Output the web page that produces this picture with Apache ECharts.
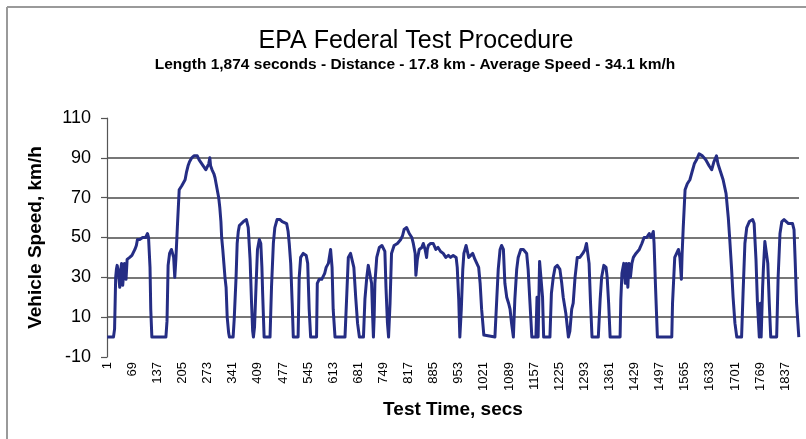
<!DOCTYPE html>
<html>
<head>
<meta charset="utf-8">
<script src="https://cdn.jsdelivr.net/npm/echarts@6/dist/echarts.min.js"></script>
<style>
html,body{margin:0;padding:0;background:#fff;}
#chart{width:806px;height:439px;}
</style>
</head>
<body>
<div id="chart"></div>
<script>
const chartTitle = 'EPA Federal Test Procedure';
const chartSubtitle = 'Length 1,874 seconds - Distance - 17.8 km - Average Speed - 34.1 km/h';
const yAxisTitle = 'Vehicle Speed, km/h';
const xAxisTitle = 'Test Time, secs';

// tick labels
const xTickLabels = [1,69,137,205,273,341,409,477,545,613,681,749,817,885,953,1021,1089,1157,1225,1293,1361,1429,1497,1565,1633,1701,1769,1837];
const yTickLabels = [-10,10,30,50,70,90,110];

// speed trace: [time s, speed km/h]
const cycleFirstPart = [
[1,0],[18,0],[21,4],[24,30],[26,34],[28,36],[31,33],[35,25],[38,34],[40,37],[43,26],[45,26],[48,37],[50,36],[52,29],[55,39],[62,40],[68,41],[72,42],[76,44],[80,46],[83,49],[89,49],[93,48],[97,50],[101,49],[105,50],[110,52],[113,50],[115,49],[117,35],[119,14],[122,0],
[160,0],[163,8],[166,36],[170,42],[175,44],[178,42],[181,40],[184,30],[187,39],[191,55],[196,74],[203,76],[208,77],[212,79],[216,83],[220,86],[224,88],[230,90],[236,91],[241,92],[245,91],[250,89],[255,88],[261,86],[268,84],[272,85],[276,87],[279,90],[281,86],[285,84],[290,82],[293,80],[296,77],[299,74],[303,70],[306,65],[309,58],[311,50],[314,44],[317,37],[320,30],[323,25],[326,10],[330,2],[332,0],
[342,0],[345,9],[350,30],[353,47],[356,53],[359,56],[363,57],[370,58],[378,59],[383,55],[388,39],[392,17],[395,3],[397,0],[400,5],[404,25],[408,44],[413,49],[417,47],[420,35],[422,22],[426,0],
[442,0],[446,25],[451,47],[455,55],[461,59],[469,59],[475,58],[480,57],[487,57],[491,53],[494,47],[498,37],[502,17],[505,0],
[518,0],[521,30],[525,40],[532,42],[540,41],[544,37],[548,14],[552,0],
[568,0],[570,27],[575,29],[582,29],[586,30],[590,32],[594,35],[600,37],[606,44],[610,35],[613,14],[618,0],
[645,0],[650,22],[654,40],[660,42],[665,42],[669,35],[674,20],[679,7],[684,0],
[695,0],[699,19],[704,30],[708,36],[712,35],[717,27],[720,10],[722,0],[724,10],[726,27],[731,40],[738,45],[745,46],[750,46],[753,43],[756,25],[760,7],[763,0],
[767,17],[771,42],[778,46],[783,45],[787,47],[791,46],[796,49],[801,51],[805,54],[812,55],[815,54],[819,52],[826,50],[830,47],[835,42],[837,31],[841,39],[846,44],[853,45],[857,47],[862,44],[866,40],[868,44],[871,46],[877,47],[884,47],[891,44],[897,45],[904,43],[911,42],[918,40],[925,41],[931,40],[938,41],[946,40],[949,35],[953,19],[956,0],
[960,14],[964,34],[967,42],[973,46],[976,45],[980,40],[984,40],[991,42],[997,39],[1002,40],[1007,35],[1011,27],[1015,14],[1021,1],[1024,0],
[1051,0],[1056,19],[1060,34],[1065,44],[1069,46],[1074,44],[1078,27],[1083,20],[1088,17],[1092,14],[1096,7],[1101,0],
[1105,19],[1110,34],[1114,40],[1121,44],[1128,44],[1137,42],[1141,34],[1146,17],[1151,0],
[1162,0],[1165,20],[1168,0],[1172,38],[1176,37],[1180,20],[1183,0],
[1200,0],[1204,22],[1209,30],[1214,35],[1220,36],[1227,34],[1232,27],[1236,20],[1243,12],[1250,0],[1254,3],[1259,14],[1263,17],[1268,30],[1274,40],[1281,40],[1289,42],[1295,44],[1299,47],[1303,46],[1306,37],[1310,17],[1314,0],
[1331,0],[1336,19],[1340,30],[1346,36],[1352,35],[1355,30],[1359,17],[1363,0]
];
const cycleSecondPart = [
[1390,0],[1392,19],[1395,32],[1400,37],[1404,27],[1407,37],[1411,25],[1414,37],[1418,30],[1422,37],[1426,40],[1433,42],[1442,44],[1449,47],[1455,50],[1462,50],[1469,52],[1474,50],[1480,53],[1482,47],[1486,25],[1491,0],
[1530,0],[1532,17],[1538,40],[1543,42],[1548,44],[1552,40],[1556,29],[1558,42],[1561,55],[1566,74],[1572,77],[1579,79],[1585,83],[1591,87],[1597,89],[1604,92],[1613,91],[1622,89],[1631,86],[1638,84],[1644,88],[1651,91],[1655,87],[1662,83],[1669,79],[1677,72],[1683,60],[1687,49],[1692,34],[1696,20],[1701,7],[1706,0],
[1719,0],[1723,22],[1728,47],[1733,55],[1740,58],[1749,59],[1753,57],[1758,39],[1762,17],[1767,0],[1770,17],[1772,0],[1776,25],[1778,34],[1782,48],[1787,49],[1790,37],[1794,17],[1798,0],
[1814,0],[1818,30],[1823,52],[1828,58],[1834,59],[1846,57],[1857,57],[1861,54],[1864,39],[1868,17],[1874,0]
];

const FONT = '"Liberation Sans", Arial, sans-serif';
const chart = echarts.init(document.getElementById('chart'), null, {renderer: 'canvas'});
chart.setOption({
  animation: false,
  backgroundColor: '#ffffff',
  title: [
    {text: chartTitle, left: 411, top: 24, textAlign: 'center',
     textStyle: {fontFamily: FONT, fontSize: 25, fontWeight: 'normal', color: '#000'}},
    {text: chartSubtitle, left: 410, top: 52, textAlign: 'center',
     textStyle: {fontFamily: FONT, fontSize: 15.5, fontWeight: 'bold', color: '#000'}}
  ],
  graphic: [
    {type: 'line', shape: {x1: 7, y1: 7, x2: 806, y2: 7}, style: {stroke: '#9a9a9a', lineWidth: 2}},
    {type: 'line', shape: {x1: 7, y1: 7, x2: 7, y2: 439}, style: {stroke: '#9a9a9a', lineWidth: 2}}
  ],
  grid: {left: 107, right: 7, top: 118, bottom: 82, containLabel: false},
  xAxis: {
    type: 'value', min: 0.5, max: 1874.5,
    name: xAxisTitle, nameLocation: 'middle', nameGap: 43,
    nameTextStyle: {fontFamily: FONT, fontSize: 19, fontWeight: 'bold', color: '#000'},
    axisLine: {show: false},
    axisTick: {show: false, customValues: xTickLabels},
    splitLine: {show: false},
    axisLabel: {customValues: xTickLabels, rotate: 90, margin: 5, fontFamily: FONT, fontSize: 13, color: '#000',
      formatter: function (v) { return String(Math.round(v)); },
      showMinLabel: true, showMaxLabel: true, hideOverlap: false}
  },
  yAxis: {
    type: 'value', min: -10, max: 110, interval: 20,
    name: yAxisTitle, nameLocation: 'middle', nameGap: 62, nameRotate: 90,
    nameTextStyle: {fontFamily: FONT, fontSize: 19, fontWeight: 'bold', color: '#000'},
    axisLine: {show: true, lineStyle: {color: '#555', width: 1.2}},
    axisTick: {show: true, length: 6, lineStyle: {color: '#555', width: 1.2}},
    axisLabel: {fontFamily: FONT, fontSize: 18, color: '#000', margin: 16},
    splitLine: {show: true, showMinLine: false, showMaxLine: false, lineStyle: {color: '#4a4a4a', width: 1.6}}
  },
  series: [{
    type: 'line',
    data: cycleFirstPart.concat(cycleSecondPart),
    showSymbol: false,
    symbol: 'none',
    lineStyle: {color: '#252d84', width: 3, join: 'round'},
    z: 3
  }]
});
</script>
</body>
</html>
